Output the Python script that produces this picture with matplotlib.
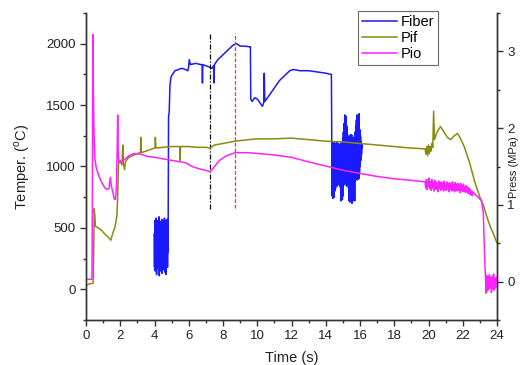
import matplotlib
matplotlib.use("Agg")
import matplotlib.pyplot as plt
from matplotlib.ticker import MultipleLocator
import numpy as np

plt.rcParams['font.family'] = ['Liberation Sans', 'DejaVu Sans']

# ---------------- data ----------------
# Fiber temperature (deg C), noisy block 1
fiber_noise1_t = [3.98 + 0.02 * i for i in range(42)]
fiber_noise1_v = [450, 180, 560, 150, 520, 240, 580, 120, 500, 200, 560, 170, 540, 260,
                  590, 110, 480, 210, 550, 150, 530, 230, 570, 130, 510, 190, 560, 160,
                  520, 250, 580, 140, 490, 220, 560, 120, 540, 200, 570, 180, 550, 300]
# Fiber main plateau section
fiber_main_t = [4.80, 4.82, 4.86, 4.90, 4.95, 5.00, 5.10, 5.20, 5.40, 5.60, 5.80, 5.95,
                6.00, 6.03, 6.10, 6.40, 6.70, 6.78, 6.80, 6.82, 7.00, 7.20, 7.35, 7.45,
                7.47, 7.50, 7.70, 8.00, 8.30, 8.60, 8.80, 9.00, 9.30, 9.55, 9.60, 9.62,
                9.70, 9.85, 10.00, 10.20, 10.30, 10.38, 10.41, 10.44, 10.70, 11.00,
                11.30, 11.60, 11.90, 12.10, 12.50, 13.00, 13.50, 14.00, 14.30, 14.33]
fiber_main_v = [560, 1400, 1450, 1650, 1720, 1740, 1760, 1780, 1790, 1800, 1790, 1780,
                1820, 1870, 1830, 1840, 1830, 1830, 1680, 1830, 1820, 1810, 1800, 1820,
                1680, 1830, 1870, 1910, 1950, 1990, 2000, 1980, 1980, 1975, 1975, 1550,
                1530, 1560, 1550, 1510, 1490, 1520, 1760, 1530, 1580, 1640,
                1700, 1740, 1780, 1790, 1780, 1780, 1770, 1760, 1750, 1750]
# Fiber noisy block 2
fiber_noise2_t = [14.35 + 0.02 * i for i in range(90)]
fiber_noise2_v = [1180, 760, 1190, 740, 1170, 780, 1200, 750, 1180, 800, 1190, 820,
                  1170, 860, 1180, 840, 1200, 870, 1190, 850, 1180, 900, 1170, 860,
                  1180, 830, 1190, 720, 1180, 740, 1200, 730, 1230, 760, 1280, 850,
                  1350, 870, 1420, 860, 1300, 880, 1410, 840, 1330, 870, 1260, 900,
                  1220, 820, 1240, 720, 1250, 710, 1230, 730, 1260, 720, 1240, 700,
                  1250, 720, 1230, 730, 1220, 740, 1240, 720, 1280, 880, 1330, 900,
                  1380, 920, 1420, 890, 1400, 930, 1370, 900, 1430, 950, 1300, 1000,
                  1250, 1050, 1200, 1100, 1180, 1150]

# Pif pressure (MPa)
pif_t = [0.00, 0.20, 0.42, 0.45, 0.48, 0.52, 0.55, 0.70, 0.90, 1.10, 1.30, 1.45, 1.55,
         1.70, 1.80, 1.85, 1.90, 2.00, 2.10, 2.15, 2.18, 2.25, 2.30, 2.50, 3.00, 3.18,
         3.20, 3.22, 3.50, 4.00, 4.03, 4.05, 4.08, 4.50, 5.00, 5.48, 5.50, 5.52, 6.00,
         6.50, 7.00, 7.25, 7.50, 8.00, 8.70, 9.50, 10.00, 11.00, 12.00, 13.00, 14.00,
         15.00, 16.00, 17.00, 18.00, 19.00, 19.80, 19.85, 19.90, 19.95, 20.00, 20.05,
         20.10, 20.15, 20.20, 20.25, 20.30, 20.35, 20.50, 20.70, 20.90, 21.10, 21.30,
         21.50, 21.70, 21.90, 22.10, 22.40, 22.70, 23.00, 23.20, 23.40, 23.60, 23.80, 24.00]
pif_v = [-0.05, -0.03, -0.02, 0.40, 0.95, 0.85, 0.72, 0.70, 0.67, 0.62, 0.58, 0.54, 0.62,
         0.72, 0.85, 1.10, 1.55, 1.58, 1.52, 1.78, 1.55, 1.46, 1.56, 1.62, 1.67, 1.68,
         1.88, 1.68, 1.70, 1.74, 1.75, 1.88, 1.74, 1.75, 1.76, 1.76, 1.58, 1.76, 1.76,
         1.75, 1.75, 1.74, 1.78, 1.80, 1.83, 1.85, 1.86, 1.86, 1.87, 1.85, 1.83,
         1.82, 1.80, 1.78, 1.76, 1.74, 1.73, 1.66, 1.76, 1.64, 1.78, 1.67, 1.76,
         1.70, 1.80, 1.75, 2.22, 1.85, 1.95, 2.02, 1.95, 1.88, 1.85,
         1.90, 1.93, 1.85, 1.75, 1.55, 1.30, 1.10, 1.00, 0.85, 0.72, 0.62, 0.50]

# Pio pressure (MPa)
pio_t = [0.00, 0.35, 0.38, 0.40, 0.43, 0.47, 0.52, 0.60, 0.75, 0.90, 1.10, 1.25, 1.35,
         1.42, 1.48, 1.55, 1.65, 1.72, 1.78, 1.82, 1.85, 1.88, 1.92, 2.00, 2.20, 2.50,
         2.80, 3.20, 3.60, 4.00, 4.50, 5.00, 5.50, 5.80, 6.20, 6.60, 7.00, 7.25, 7.50,
         7.80, 8.20, 8.70, 9.50, 10.00, 10.50, 11.00, 12.00, 13.00, 14.30, 15.00, 16.00,
         17.00, 18.00, 19.00, 19.80]
pio_v = [0.03, 0.03, 1.50, 3.22, 2.50, 1.90, 1.60, 1.48, 1.38, 1.30, 1.22, 1.20, 1.22,
         1.36, 1.25, 1.18, 1.08, 1.07, 1.25, 1.70, 2.17, 1.70, 1.55, 1.55, 1.58, 1.64,
         1.67, 1.66, 1.63, 1.62, 1.60, 1.58, 1.56, 1.55, 1.50, 1.47, 1.45, 1.43, 1.50,
         1.58, 1.64, 1.68, 1.68, 1.67, 1.66, 1.65, 1.62, 1.56, 1.49, 1.45, 1.41,
         1.37, 1.34, 1.32, 1.30]
pio_noise_t = [19.84 + 0.04 * i for i in range(70)]
pio_noise_v = [1.22, 1.33, 1.20, 1.31, 1.24, 1.35, 1.21, 1.30, 1.19, 1.33, 1.22, 1.29,
               1.18, 1.32, 1.21, 1.30, 1.20, 1.28, 1.17, 1.31, 1.22, 1.29, 1.19, 1.30,
               1.21, 1.28, 1.18, 1.31, 1.20, 1.27, 1.19, 1.30, 1.21, 1.28, 1.17, 1.29,
               1.20, 1.27, 1.18, 1.30, 1.19, 1.26, 1.17, 1.29, 1.20, 1.27, 1.18, 1.28,
               1.19, 1.26, 1.16, 1.28, 1.19, 1.25, 1.17, 1.27, 1.18, 1.24, 1.16, 1.25,
               1.17, 1.23, 1.15, 1.22, 1.14, 1.20, 1.13, 1.18, 1.12, 1.17]
pio_end_t = [22.70, 22.90, 23.10, 23.20, 23.28, 23.33, 23.36, 23.40, 23.44, 23.48, 23.52,
             23.56, 23.60, 23.64, 23.68, 23.72, 23.76, 23.80, 23.84, 23.88, 23.92, 23.96, 24.00]
pio_end_v = [1.14, 1.10, 1.05, 0.90, 0.30, 0.05, -0.15, 0.08, -0.12, 0.06, -0.10, 0.09,
             -0.08, 0.05, -0.14, 0.07, -0.09, 0.10, -0.11, 0.04, -0.08, 0.06, -0.02]

# vertical markers (time, bottom, top) in deg C
vline_black = (7.27, 650, 2080)
vline_red = (8.70, 660, 2090)

# ---------------- plot ----------------
fig = plt.figure(figsize=(5.25, 3.65), dpi=100)
ax = fig.add_axes([86 / 525, 1 - 320 / 365, (497 - 86) / 525, (320 - 13) / 365])
ax2 = ax.twinx()

c_fiber = '#1a1aff'
c_pif = '#8a8a10'
c_pio = '#ff22ff'

fiber_t = fiber_noise1_t + fiber_main_t + fiber_noise2_t
fiber_v = fiber_noise1_v + fiber_main_v + fiber_noise2_v
l1, = ax.plot(fiber_t, fiber_v, color=c_fiber, lw=1.1, label='Fiber')

ax.vlines(vline_black[0], vline_black[1], vline_black[2], colors='black',
          linestyles=(0, (4, 1.5, 1, 1.5)), lw=0.9)
ax.vlines(vline_red[0], vline_red[1], vline_red[2], colors='#ff3030',
          linestyles=(0, (3, 1.5)), lw=0.9)

l2, = ax2.plot(pif_t, pif_v, color=c_pif, lw=1.1, label='Pif')
l3, = ax2.plot(pio_t + pio_noise_t + pio_end_t, pio_v + pio_noise_v + pio_end_v,
               color=c_pio, lw=1.1, label='Pio')

ax.set_xlim(0, 24)
ax.set_ylim(-250, 2250)
ax2.set_ylim(-0.5, 3.5)

ax.xaxis.set_major_locator(MultipleLocator(2))
ax.xaxis.set_minor_locator(MultipleLocator(1))
ax.yaxis.set_major_locator(MultipleLocator(500))
ax.yaxis.set_minor_locator(MultipleLocator(250))
ax2.yaxis.set_major_locator(MultipleLocator(1))
ax2.yaxis.set_minor_locator(MultipleLocator(0.5))

for a in (ax, ax2):
    a.spines['top'].set_visible(False)
    for s in a.spines.values():
        s.set_linewidth(1.0)
        s.set_color('#333333')
    a.tick_params(which='major', direction='out', length=4, width=1, labelsize=9.5,
                  colors='#333333', labelcolor='#222222')
    a.tick_params(which='minor', direction='out', length=2.5, width=1, colors='#333333')

ax.set_xlabel('Time (s)', fontsize=10.5, color='#222222', labelpad=6)
ax.set_ylabel('Temper. ($^\\mathregular{o}$C)', fontsize=10.5, color='#222222', labelpad=10)
ax2.set_ylabel('Press (MPa)', fontsize=8, color='#222222', rotation=90)
ax2.yaxis.set_label_coords(1.028, 0.497)

leg = ax2.legend(handles=[l1, l2, l3], loc='upper right', bbox_to_anchor=(0.857, 1.005),
                 fancybox=False, frameon=True, fontsize=10.5, handlelength=2.4,
                 borderpad=0.25, labelspacing=0.15, handletextpad=0.3, borderaxespad=0)
leg.get_frame().set_edgecolor('#444444')
leg.get_frame().set_linewidth(0.8)

fig.savefig('out.png', dpi=100)
